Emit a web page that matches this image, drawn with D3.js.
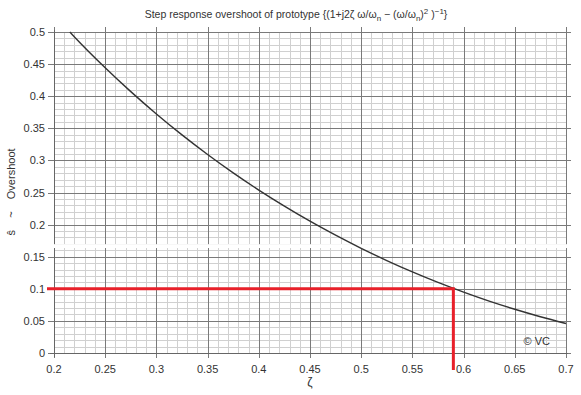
<!DOCTYPE html>
<html><head><meta charset="utf-8">
<script src="https://cdn.jsdelivr.net/npm/d3@7"></script>
<style>body{margin:0;background:#fff}svg{display:block}text{font-family:"Liberation Sans",Arial,sans-serif;fill:#333}</style>
</head><body><svg id="c" width="581" height="395"></svg>
<script>
const zeta = [0.2155,0.22,0.25,0.275,0.3,0.325,0.35,0.375,0.4,0.425,0.45,0.475,0.5,0.525,0.55,0.575,0.6,0.625,0.65,0.675,0.7];
const overshoot = [0.5,0.4923,0.4443,0.4071,0.3723,0.3397,0.3092,0.2806,0.2538,0.2288,0.2053,0.1835,0.163,0.144,0.1263,0.1099,0.0948,0.0808,0.0681,0.0565,0.046];
const xTicks = [0.2,0.25,0.3,0.35,0.4,0.45,0.5,0.55,0.6,0.65,0.7];
const yTicks = [0,0.05,0.1,0.15,0.2,0.25,0.3,0.35,0.4,0.45,0.5];
const marker = {zeta:0.59, os:0.1};

const svg = d3.select("#c");
const L=54,R=566,T=32,B=353;
const x = d3.scaleLinear().domain([0.2,0.7]).range([L,R]);
const y = d3.scaleLinear().domain([0,0.5]).range([B,T]);

const g = svg.append("g");
const minorX = d3.range(0,51).map(i=>0.2+i*0.01);
const minorY = d3.range(0,51).map(i=>i*0.01);
g.selectAll(".mx").data(minorX).join("line").attr("x1",d=>Math.round(x(d))+0.5).attr("x2",d=>Math.round(x(d))+0.5).attr("y1",T).attr("y2",B).attr("stroke","#d0d0d0").attr("stroke-width",1);
g.selectAll(".my").data(minorY).join("line").attr("y1",d=>Math.round(y(d))+0.5).attr("y2",d=>Math.round(y(d))+0.5).attr("x1",L).attr("x2",R).attr("stroke","#d0d0d0").attr("stroke-width",1);
g.selectAll(".MX").data(xTicks).join("line").attr("x1",d=>Math.round(x(d))+0.5).attr("x2",d=>Math.round(x(d))+0.5).attr("y1",T-5).attr("y2",B+5).attr("stroke","#7a7a7a").attr("stroke-width",1);
g.selectAll(".MY").data(yTicks).join("line").attr("y1",d=>Math.round(y(d))+0.5).attr("y2",d=>Math.round(y(d))+0.5).attr("x1",L-6).attr("x2",R+5).attr("stroke","#7a7a7a").attr("stroke-width",1);
g.append("line").attr("x1",L+0.5).attr("x2",L+0.5).attr("y1",T-2).attr("y2",B+4).attr("stroke","#666");
g.append("line").attr("x1",L-4).attr("x2",R+2).attr("y1",B+0.5).attr("y2",B+0.5).attr("stroke","#666");
g.append("rect").attr("x",L-8).attr("width",R-L+16).attr("y",y(0.1695)).attr("height",y(0.1635)-y(0.1695)).attr("fill","#fff");

svg.selectAll(".xt").data(xTicks).join("text").attr("x",d=>x(d)).attr("y",373).attr("text-anchor","middle").attr("font-size",11).text(d=>d3.format("")(d));
svg.selectAll(".yt").data(yTicks).join("text").attr("x",L-9).attr("y",d=>y(d)+4).attr("text-anchor","end").attr("font-size",11).text(d=>d3.format("")(d));

const line = d3.line().x((d,i)=>x(zeta[i])).y(d=>y(d)).curve(d3.curveMonotoneX);
svg.append("path").attr("d",line(overshoot)).attr("fill","none").attr("stroke","#333").attr("stroke-width",1.4);

svg.append("path").attr("d",`M${L-7},${y(marker.os)}H${x(marker.zeta)}V${B+17}`).attr("fill","none").attr("stroke","#e8202a").attr("stroke-width",3).attr("stroke-linejoin","miter");

const t = svg.append("text").attr("x",296).attr("y",18).attr("text-anchor","middle").attr("font-size",10.5);
t.append("tspan").text("Step response overshoot of prototype {(1+j2ζ ω/ω");
t.append("tspan").attr("dy",3).attr("font-size",8).text("n");
t.append("tspan").attr("dy",-3).text(" − (ω/ω");
t.append("tspan").attr("dy",3).attr("font-size",8).text("n");
t.append("tspan").attr("dy",-3).text(")");
t.append("tspan").attr("dy",-4).attr("font-size",8).text("2");
t.append("tspan").attr("dy",4).text(" )");
t.append("tspan").attr("dy",-4).attr("font-size",8).text("−1");
t.append("tspan").attr("dy",4).text("}");

svg.append("text").attr("x",310).attr("y",386).attr("text-anchor","middle").attr("font-size",12).text("ζ");
svg.append("text").attr("transform","translate(15,192) rotate(-90)").attr("text-anchor","middle").attr("font-size",11).attr("xml:space","preserve").style("white-space","pre").text("ŝ    ~    Overshoot");

svg.append("text").attr("x",550).attr("y",345).attr("text-anchor","end").attr("font-size",11).text("© VC");
</script></body></html>
